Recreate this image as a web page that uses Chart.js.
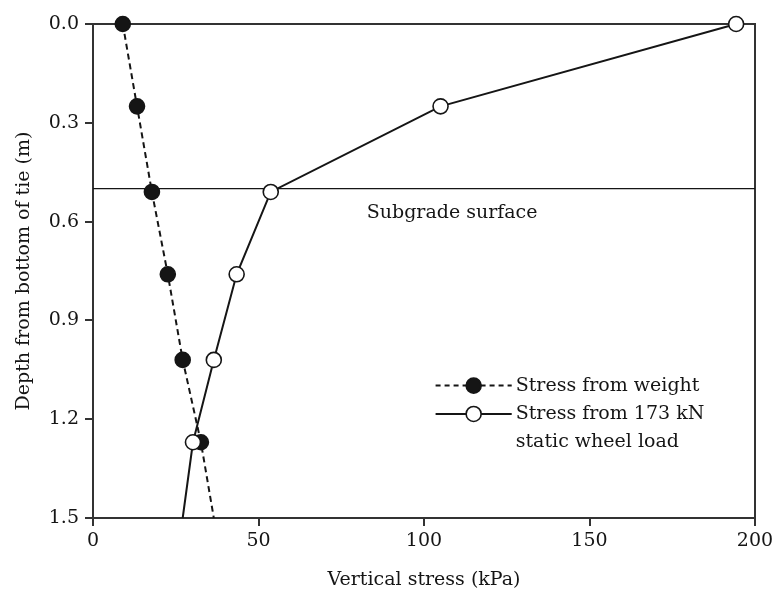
<!DOCTYPE html>
<html>
<head>
<meta charset="utf-8">
<script src="https://cdn.jsdelivr.net/npm/chart.js@4.4.1/dist/chart.umd.min.js"></script>
<style>
  html, body { margin: 0; padding: 0; background: #fff; }
  #wrap { width: 775px; height: 591px; }
</style>
</head>
<body>
<div id="wrap"><canvas id="stressChart" width="775" height="591"></canvas></div>
<script>
/* values */
var depthWeight = [0.0, 0.25, 0.51, 0.76, 1.02, 1.27, 1.5];
var stressWeight = [9, 13.3, 17.8, 22.6, 27.1, 32.6, 36.5];   // last point only carries the line to the axis
var depthWheel = [0.0, 0.25, 0.51, 0.76, 1.02, 1.27, 1.5];
var stressWheel = [194.3, 105, 53.7, 43.4, 36.5, 30.2, 27.1];
var subgradeDepth = 0.5;
var xTicks = [0, 50, 100, 150, 200];
var yTicks = [0.0, 0.3, 0.6, 0.9, 1.2, 1.5];

var ink = '#151515';
var frame = '#333';
var serif = '"DejaVu Serif", "Liberation Serif", serif';
var fsize = 19;

function toPoints(xs, ys) {
    return xs.map((x, i) => ({ x: x, y: ys[i] }));
}
// markers on every point except the line extension to the bottom axis
function markerRadius(n) {
    return (ctx) => (ctx.dataIndex === n - 1 ? 0 : 7.5);
}

/* frame, subgrade label and the hand drawn legend */
const extras = {
    id: 'extras',
    beforeDatasetsDraw(chart) {
        const c = chart.ctx, a = chart.chartArea;
        c.save();
        c.strokeStyle = frame;
        c.lineWidth = 2;
        c.strokeRect(a.left, a.top, a.right - a.left, a.bottom - a.top);
        c.restore();
    },
    afterDatasetsDraw(chart) {
        const c = chart.ctx;
        const xs = chart.scales.x, ys = chart.scales.y;
        c.save();
        c.strokeStyle = ink;
        c.fillStyle = ink;
        c.font = fsize + 'px ' + serif;
        c.textAlign = 'center';
        c.textBaseline = 'middle';
        c.fillText('Subgrade surface', xs.getPixelForValue(108.5), ys.getPixelForValue(0.574));

        // legend
        const x0 = xs.getPixelForValue(103.5), x1 = xs.getPixelForValue(126.5);
        const xm = (x0 + x1) / 2;
        const rows = [ys.getPixelForValue(1.098), ys.getPixelForValue(1.184), ys.getPixelForValue(1.27)];
        c.lineWidth = 2;
        c.setLineDash([5, 4]);
        c.beginPath(); c.moveTo(x0, rows[0]); c.lineTo(x1, rows[0]); c.stroke();
        c.setLineDash([]);
        c.beginPath(); c.moveTo(x0, rows[1]); c.lineTo(x1, rows[1]); c.stroke();
        c.lineWidth = 1.6;
        c.beginPath(); c.arc(xm, rows[0], 7.5, 0, Math.PI * 2); c.fillStyle = ink; c.fill(); c.stroke();
        c.beginPath(); c.arc(xm, rows[1], 7.5, 0, Math.PI * 2); c.fillStyle = '#fff'; c.fill(); c.stroke();
        c.fillStyle = ink;
        c.textAlign = 'left';
        c.fillText('Stress from weight', x1 + 4, rows[0]);
        c.fillText('Stress from 173 kN', x1 + 4, rows[1]);
        c.fillText('static wheel load', x1 + 4, rows[2]);
        c.restore();
    }
};

const ctx = document.getElementById('stressChart').getContext('2d');
const stressChart = new Chart(ctx, {
    type: 'scatter',
    data: {
        datasets: [{
            label: 'Stress from 173 kN static wheel load',
            data: toPoints(stressWheel, depthWheel),
            showLine: true,
            clip: false,
            borderColor: ink,
            borderWidth: 2,
            backgroundColor: '#fff',
            pointBackgroundColor: '#fff',
            pointBorderColor: ink,
            pointBorderWidth: 1.6,
            pointRadius: markerRadius(depthWheel.length)
        }, {
            label: 'Stress from weight',
            data: toPoints(stressWeight, depthWeight),
            showLine: true,
            clip: false,
            borderColor: ink,
            borderWidth: 2,
            borderDash: [6, 4],
            backgroundColor: ink,
            pointBackgroundColor: ink,
            pointBorderColor: ink,
            pointBorderWidth: 1.6,
            pointRadius: markerRadius(depthWeight.length)
        }, {
            label: 'Subgrade surface',
            data: [{ x: xTicks[0], y: subgradeDepth }, { x: xTicks[xTicks.length - 1], y: subgradeDepth }],
            showLine: true,
            borderColor: ink,
            borderWidth: 1.4,
            pointRadius: 0
        }]
    },
    options: {
        responsive: false,
        animation: false,
        layout: { padding: { top: 24, right: 20, left: 13, bottom: 0 } },
        plugins: {
            legend: { display: false },
            tooltip: { enabled: false }
        },
        scales: {
            x: {
                type: 'linear',
                min: xTicks[0],
                max: xTicks[xTicks.length - 1],
                afterBuildTicks: (s) => { s.ticks = xTicks.map(v => ({ value: v })); },
                afterFit: (s) => { s.height = 73; s.paddingLeft = 0; s.paddingRight = 0; },
                grid: { display: true, drawOnChartArea: false, drawTicks: true, tickLength: 8, color: frame, lineWidth: 2 },
                border: { display: true, color: frame, width: 2 },
                ticks: { color: ink, font: { family: serif, size: fsize }, padding: 4 },
                title: { display: true, text: 'Vertical stress (kPa)', color: ink, font: { family: serif, size: fsize }, padding: { top: 5, bottom: 0 } }
            },
            y: {
                type: 'linear',
                reverse: true,
                min: yTicks[0],
                max: yTicks[yTicks.length - 1],
                afterBuildTicks: (s) => { s.ticks = yTicks.map(v => ({ value: v })); },
                afterFit: (s) => { s.width = 80; s.paddingTop = 0; s.paddingBottom = 0; },
                grid: { display: true, drawOnChartArea: false, drawTicks: true, tickLength: 8, color: frame, lineWidth: 2 },
                border: { display: true, color: frame, width: 2 },
                ticks: { color: ink, font: { family: serif, size: fsize }, padding: 6, callback: (v) => Number(v).toFixed(1) },
                title: { display: true, text: 'Depth from bottom of tie (m)', color: ink, font: { family: serif, size: fsize }, padding: { top: 0, bottom: 6 } }
            }
        }
    },
    plugins: [extras]
});
</script>
</body>
</html>
